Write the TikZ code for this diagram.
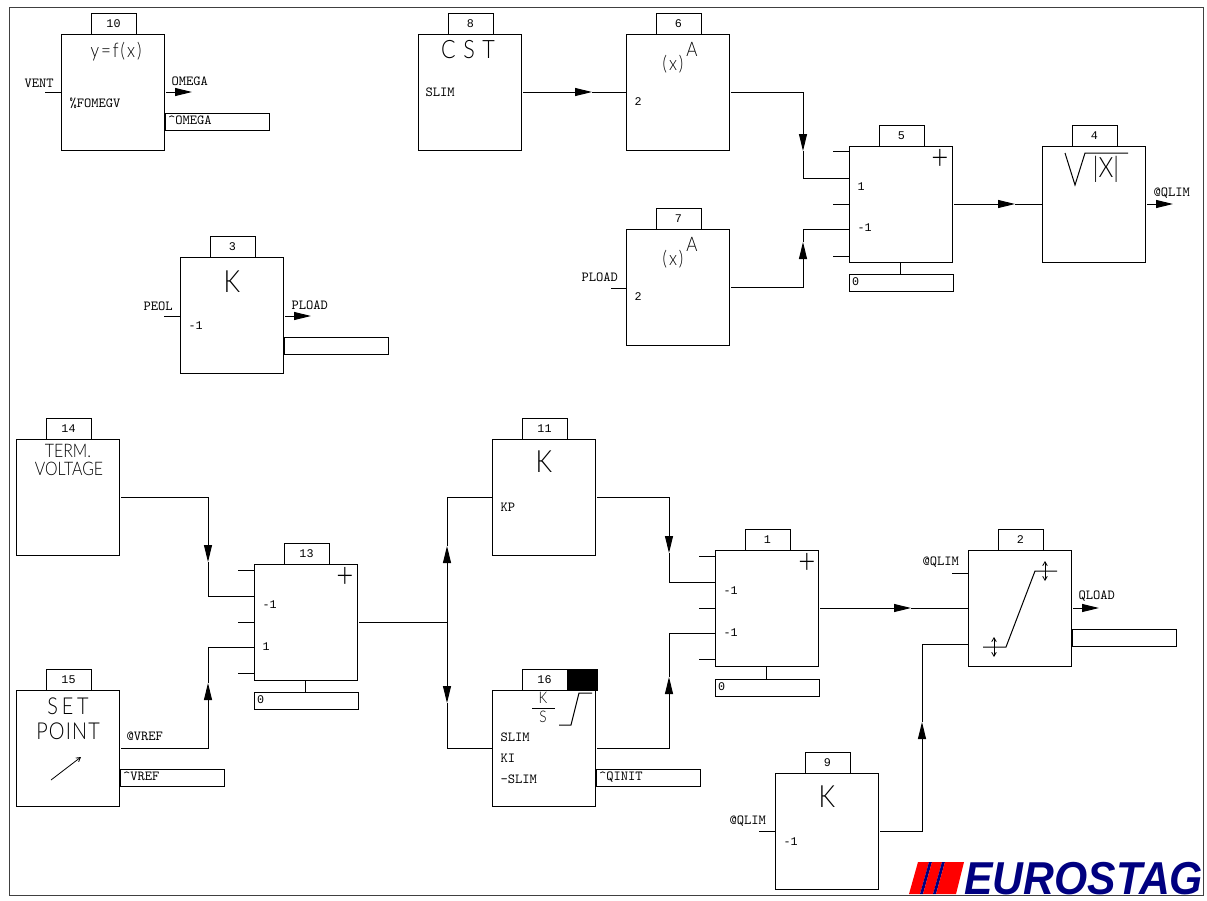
\documentclass[tikz,border=0pt]{standalone}
\usepackage{fontspec}
\usetikzlibrary{arrows.meta, positioning}
\newfontfamily\numfont{Liberation Mono}
\newfontfamily\symfont[FakeStretch=0.85]{Lato Light}
\newfontfamily\logofont[FakeStretch=0.925]{Liberation Sans}
\definecolor{logoblue}{HTML}{000080}
\definecolor{logored}{HTML}{FF0000}
\definecolor{framegray}{HTML}{404040}

\begin{document}
\begin{tikzpicture}[
    x=0.75pt, y=-0.75pt,
    line width=0.75pt,
    block/.style = {rectangle, draw, minimum width=77.25pt, minimum height=87pt, inner sep=0pt, outer sep=0pt},
    tag/.style = {rectangle, draw, minimum width=33.75pt, minimum height=15.75pt, inner sep=0pt, outer sep=0pt,
                  font=\numfont\fontsize{8.8}{10}\selectfont},
    outbox/.style = {rectangle, draw, anchor=north west, minimum height=12.75pt, text width=73.5pt, inner xsep=2.25pt,
                     inner ysep=0pt, outer sep=0pt, align=left, text height=5.5pt, text depth=1.5pt,
                     font=\ttfamily\fontsize{10.4}{12}\selectfont},
    lbl/.style = {anchor=west, inner sep=0pt, font=\ttfamily\fontsize{10.4}{12}\selectfont},
    num/.style = {anchor=west, inner sep=0pt, font=\numfont\fontsize{8.8}{10}\selectfont},
    sym/.style = {inner sep=0pt, font=\symfont\fontsize{#1}{#1}\selectfont},
    wire/.style = {line width=0.75pt},
    gap/.style = {shorten <=1.5pt},
    arrow/.style = {-{Triangle[length=12.75pt, width=6pt]}, line width=0.75pt},
    thinarrow/.style = {{Straight Barb[length=3pt, width=3.5pt]}-{Straight Barb[length=3pt, width=3.5pt]}, line width=0.6pt}
  ]
    \useasboundingbox (0,0) rectangle (1207,900);
    \draw[framegray] (9,7) rectangle (1203,895);

    % Blocks, upper part
    \node[block] (b10) at (112.5,92) {};
    \node[block] (b3) at (231.5,315) {};
    \node[block] (b8) at (469.5,92) {};
    \node[block, right=78.75pt of b8] (b6) {};
    \node[block, below=59.25pt of b6] (b7) {};
    \node[block] (b5) at (900.5,204) {};
    \node[block, right=67.5pt of b5] (b4) {};

    % Blocks, lower part
    \node[block] (b14) at (67.5,497) {};
    \node[block, below=101.25pt of b14] (b15) {};
    \node[block] (b13) at (305.5,622) {};
    \node[block] (b11) at (543.5,497) {};
    \node[block, below=101.25pt of b11] (b16) {};
    \node[block] (b1) at (766.5,608) {};
    \node[block, right=112.5pt of b1] (b2) {};
    \node[block] (b9) at (826.5,831) {};

    % Number tags
    \node[tag, above=0pt of b10, xshift=0.75pt] (t10) {10};
    \node[tag, above=0pt of b3, xshift=0.75pt] (t3) {3};
    \node[tag, above=0pt of b8, xshift=0.75pt] (t8) {8};
    \node[tag, above=0pt of b6, xshift=0.75pt] (t6) {6};
    \node[tag, above=0pt of b7, xshift=0.75pt] (t7) {7};
    \node[tag, above=0pt of b5, xshift=0.75pt] (t5) {5};
    \node[tag, above=0pt of b4, xshift=0.75pt] (t4) {4};
    \node[tag, above=0pt of b14, xshift=0.75pt] (t14) {14};
    \node[tag, above=0pt of b15, xshift=0.75pt] (t15) {15};
    \node[tag, above=0pt of b13, xshift=0.75pt] (t13) {13};
    \node[tag, above=0pt of b11, xshift=0.75pt] (t11) {11};
    \node[tag, above=0pt of b16, xshift=0.75pt] (t16) {16};
    \node[tag, above=0pt of b1, xshift=0.75pt] (t1) {1};
    \node[tag, above=0pt of b2, xshift=0.75pt] (t2) {2};
    \node[tag, above=0pt of b9, xshift=0.75pt] (t9) {9};
    \node[tag, fill=black, minimum width=22.5pt, right=0pt of t16] (flag16) {};

    % Block symbols
    \node[sym=15] (s10) at (116,52) {\addfontfeature{LetterSpace=10}y=f(x)};
    \node[sym=19] (s8) at (468,50) {\addfontfeature{LetterSpace=30}CST};
    \node[sym=15] (s6) at (673,64) {\addfontfeature{LetterSpace=10}(x)};
    \node[sym=15] (a6) at (692,49) {A};
    \node[sym=15] (s7) at (673,259) {\addfontfeature{LetterSpace=10}(x)};
    \node[sym=15] (a7) at (692,244) {A};
    \node[sym=23] (s3) at (232,282) {K};
    \node[sym=23] (s11) at (544,462) {K};
    \node[sym=23] (s9) at (827,797) {K};
    \node[sym=21] (s4) at (1106,169) {|X|};
    \node[sym=14] (s14a) at (68,451) {TERM.};
    \node[sym=14] (s14b) at (69,469) {VOLTAGE};
    \node[sym=17.5] (s15a) at (68,706) {\addfontfeature{LetterSpace=16}SET};
    \node[sym=17.5] (s15b) at (68,731) {\addfontfeature{LetterSpace=5}POINT};
    \node[sym=12] (s16a) at (543,698) {K};
    \node[sym=12] (s16b) at (543,717) {S};
    \node[sym=26] (s5) at (940,159) {+};
    \node[sym=26] (s13) at (345,577) {+};
    \node[sym=26] (s1) at (807,563) {+};
    \draw (1065,153) -- (1075,185) -- (1085,153) -- (1128,153);
    \draw (532,708) -- (555,708);
    \draw (559,725) -- (571,725) -- (579,693) -- (592,693);
    \draw (983,647) -- (1006,647) -- (1035,571) -- (1057,571);
    \draw[thinarrow] (994,637) -- (994,657);
    \draw[thinarrow] (1045,561) -- (1045,581);
    \draw[-{Straight Barb[length=3pt, width=3.5pt]}, line width=0.6pt] (51,780) -- (81,757);

    % Texts inside and beside the blocks
    \node[lbl] (fomegv) at (69,103) {\%FOMEGV};
    \node[lbl] (vent) at (24,83) {VENT};
    \node[lbl] (omega) at (171,81) {OMEGA};
    \node[lbl] (slim8) at (425,92) {SLIM};
    \node[num] (g6) at (634,102) {2};
    \node[num] (g7) at (634,297) {2};
    \node[lbl] (pload7) at (581,277) {PLOAD};
    \node[num] (g5a) at (857,187) {1};
    \node[num] (g5b) at (857,228) {-1};
    \node[lbl] (qlim4) at (1153,193) {@QLIM};
    \node[num] (g3) at (188,326) {-1};
    \node[lbl] (peol) at (143,306) {PEOL};
    \node[lbl] (pload3) at (291,305) {PLOAD};
    \node[num] (g13a) at (262,605) {-1};
    \node[num] (g13b) at (262,647) {1};
    \node[lbl] (vref) at (126,736) {@VREF};
    \node[lbl] (kp) at (500,507) {KP};
    \node[lbl] (slim16) at (500,737) {SLIM};
    \node[lbl] (ki) at (500,758) {KI};
    \node[lbl] (mslim) at (500,779) {-SLIM};
    \node[num] (g1a) at (723,591) {-1};
    \node[num] (g1b) at (723,633) {-1};
    \node[lbl] (qlim2) at (922,562) {@QLIM};
    \node[lbl] (qload) at (1078,596) {QLOAD};
    \node[lbl] (qlim9) at (729,821) {@QLIM};
    \node[num] (g9) at (783,842) {-1};

    % Output boxes
    \node[outbox] (o10) at (165,113) {\^{}OMEGA};
    \node[outbox] (o3) at (284,337) {};
    \node[outbox] (o15) at (120,769) {\^{}VREF};
    \node[outbox] (o16) at (596,769) {\^{}QINIT};
    \node[outbox] (o2) at (1072,629) {};
    \node[outbox, font=\numfont\fontsize{8.8}{10}\selectfont] (o5) at (849,274) {0};
    \node[outbox, font=\numfont\fontsize{8.8}{10}\selectfont] (o13) at (254,692) {0};
    \node[outbox, font=\numfont\fontsize{8.8}{10}\selectfont] (o1) at (715,679) {0};

    % Free ends and arrow tips
    \coordinate (e10) at (45,92);
    \coordinate (x10) at (192,92);
    \coordinate (e3) at (164,316);
    \coordinate (x3) at (311,316);
    \coordinate (e7) at (611,288);
    \coordinate (x4) at (1173,204);
    \coordinate (e2) at (952,573);
    \coordinate (x2) at (1099,608);
    \coordinate (e9) at (759,831);
    \coordinate (tip8) at (592,92);
    \coordinate (tip6) at (803,151);
    \coordinate (tip7) at (803,242);
    \coordinate (tip5) at (1015,204);
    \coordinate (tip14) at (208,562);
    \coordinate (tip15) at (208,683);
    \coordinate (tip13a) at (447,546);
    \coordinate (tip13b) at (447,703);
    \coordinate (tip11) at (669,553);
    \coordinate (tip16) at (669,677);
    \coordinate (tip1) at (911,608);
    \coordinate (tip9) at (922,722);
    \coordinate (in5a) at (849,178);
    \coordinate (in5b) at (849,229);
    \coordinate (in13a) at (254,596);
    \coordinate (in13b) at (254,647);
    \coordinate (in1a) at (715,582);
    \coordinate (in1b) at (715,633);
    \coordinate (in2) at (968,644);
    \coordinate (out13) at (447,622);

    % Unused inputs
    \foreach \pa/\pb in {833/151, 833/204, 833/256, 238/570, 238/622, 238/673,
                         699/556, 699/608, 699/659} {
      \draw[wire] (\pa,\pb) -- ({\pa+16},\pb);
    }

    % Feedback stubs
    \draw[wire] (b5.south) -- (b5.south |- o5.north);
    \draw[wire] (b13.south) -- (b13.south |- o13.north);
    \draw[wire] (b1.south) -- (b1.south |- o1.north);

    % Single stubs
    \draw[wire] (e10) -- (e10 -| b10.west);
    \draw[wire] (e3) -- (e3 -| b3.west);
    \draw[wire] (e7) -- (e7 -| b7.west);
    \draw[wire] (e2) -- (e2 -| b2.west);
    \draw[wire] (e9) -- (b9.west);
    \draw[arrow, gap] (x10 -| b10.east) -- (x10);
    \draw[arrow, gap] (x3 -| b3.east) -- (x3);
    \draw[arrow, gap] (b4.east) -- (x4);
    \draw[arrow, gap] (b2.east) -- (x2);

    % Connections
    \draw[arrow, gap] (b8.east) -- (tip8);
    \draw[wire] (tip8) -- (b6.west);
    \draw[arrow, gap] (b6.east) -| (tip6);
    \draw[wire] (tip6) |- (in5a);
    \draw[arrow, gap] (b7.east) -| (tip7);
    \draw[wire] (tip7) |- (in5b);
    \draw[arrow, gap] (b5.east) -- (tip5);
    \draw[wire] (tip5) -- (b4.west);
    \draw[arrow, gap] (b14.east) -| (tip14);
    \draw[wire] (tip14) |- (in13a);
    \draw[arrow, gap] (b15.east) -| (tip15);
    \draw[wire] (tip15) |- (in13b);
    \draw[wire, gap] (b13.east) -- (out13);
    \draw[arrow] (out13) -- (tip13a);
    \draw[wire] (tip13a) |- (b11.west);
    \draw[arrow] (out13) -- (tip13b);
    \draw[wire] (tip13b) |- (b16.west);
    \draw[arrow, gap] (b11.east) -| (tip11);
    \draw[wire] (tip11) |- (in1a);
    \draw[arrow, gap] (b16.east) -| (tip16);
    \draw[wire] (tip16) |- (in1b);
    \draw[arrow, gap] (b1.east) -- (tip1);
    \draw[wire] (tip1) -- (b2.west);
    \draw[arrow, gap] (b9.east) -| (tip9);
    \draw[wire] (tip9) |- (in2);

    % Logo
    \fill[logored] (909,894) -- (918,862) -- (929,862) -- (920,894) -- cycle;
    \fill[logoblue] (920,894) -- (929,862) -- (932,862) -- (923,894) -- cycle;
    \fill[logored] (923,894) -- (932,862) -- (942,862) -- (933,894) -- cycle;
    \fill[logoblue] (933,894) -- (942,862) -- (945,862) -- (936,894) -- cycle;
    \fill[logored] (936,894) -- (945,862) -- (964,862) -- (956,894) -- cycle;
    \node[inner sep=0pt, anchor=base west, text=logoblue,
          font=\logofont\bfseries\itshape\fontsize{34.6}{36}\selectfont] (logo) at (964,894) {EUROSTAG};
  \end{tikzpicture}
\end{document}
